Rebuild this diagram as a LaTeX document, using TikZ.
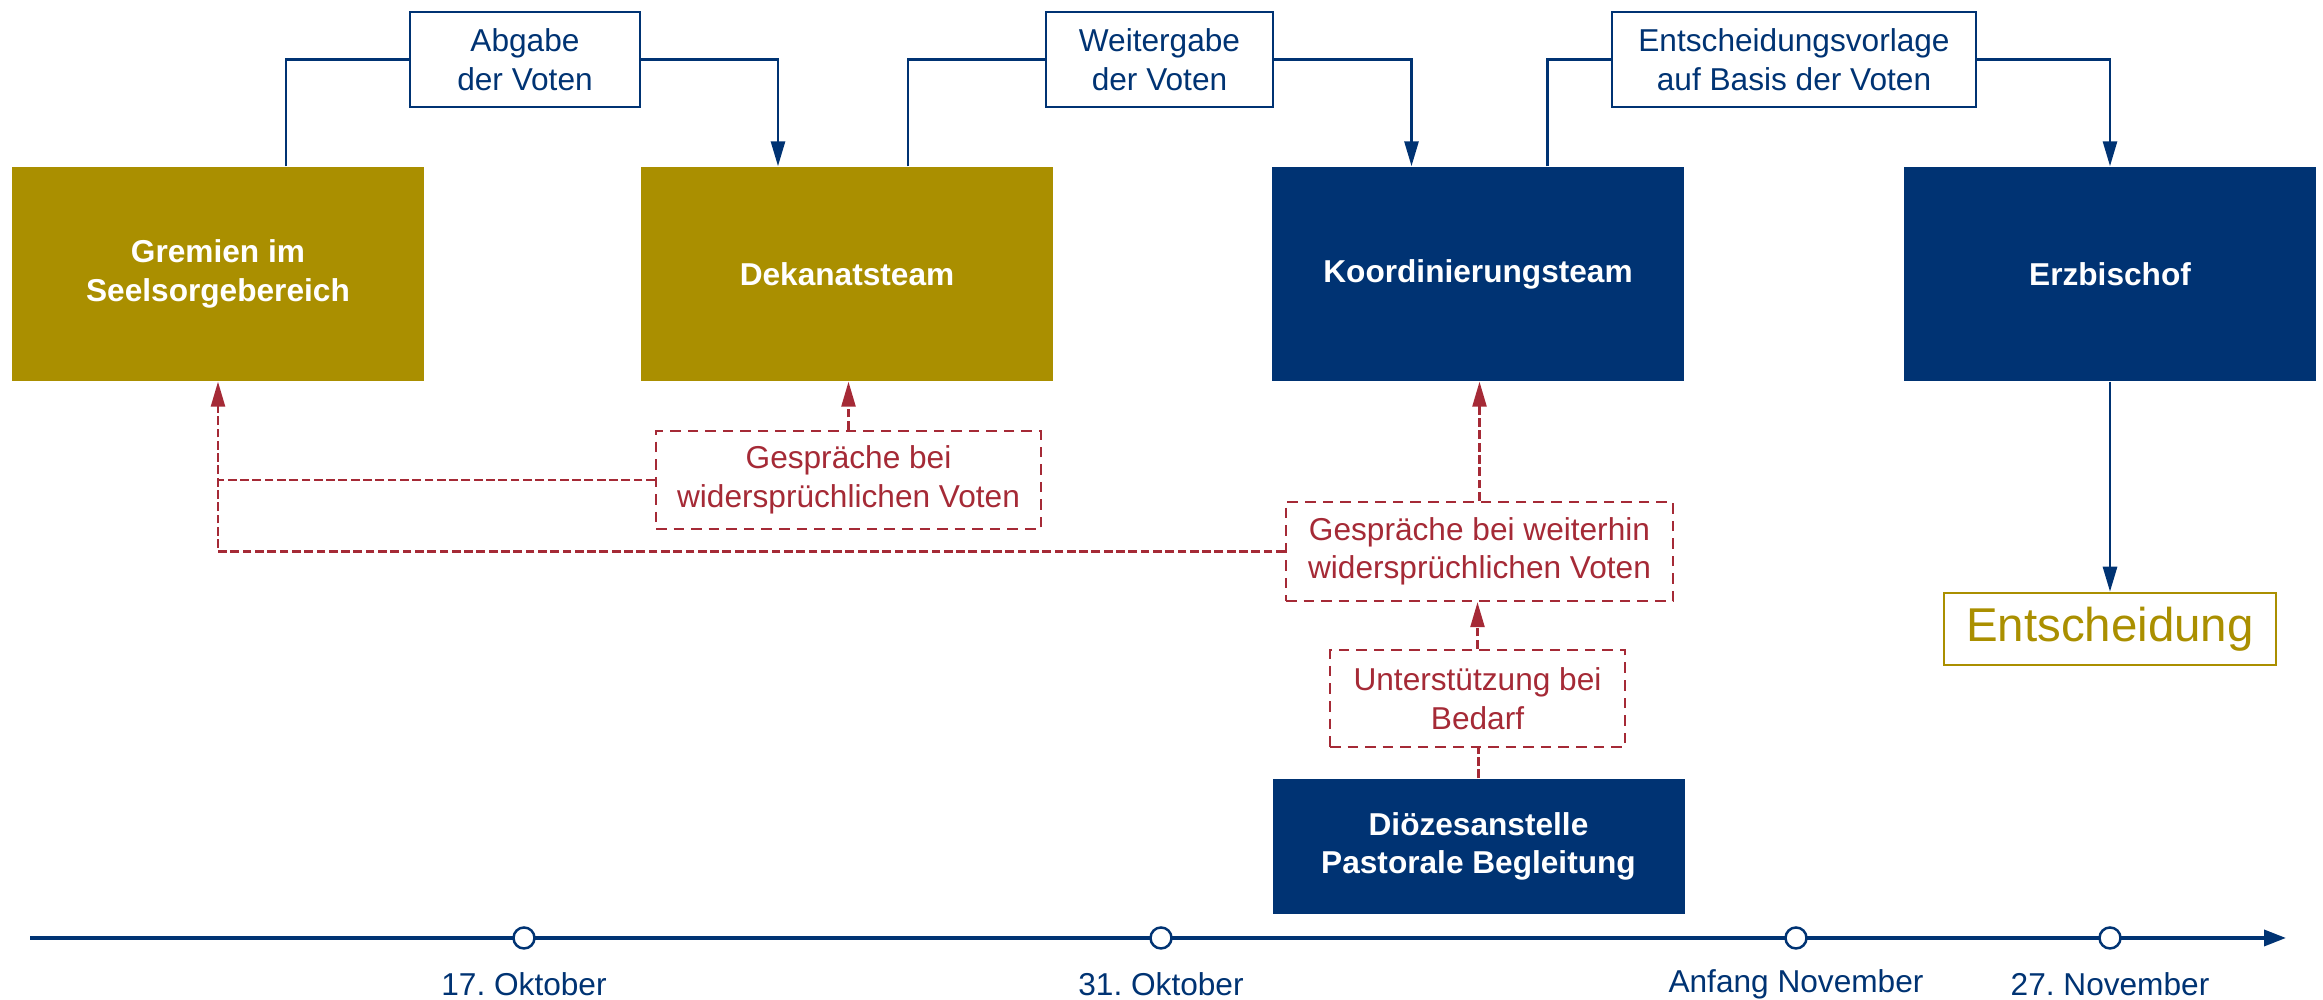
\documentclass[tikz,border=0pt]{standalone}
\usepackage{fontspec}
\setmainfont{Liberation Sans}
\usetikzlibrary{arrows.meta,positioning,calc}
\definecolor{navy}{RGB}{0,51,115}
\definecolor{gold}{RGB}{170,143,0}
\definecolor{talkred}{RGB}{165,42,54}
\frenchspacing

\begin{document}
\begin{tikzpicture}[font=\fontsize{9}{11}\selectfont,>={Triangle[length=2.5mm,width=1.4mm]},
  org/.style={text=white,font=\fontsize{9}{11}\selectfont\bfseries,align=center,minimum width=41.2mm,minimum height=21.4mm,inner sep=0pt},
  lbl/.style={draw=navy,line width=0.8pt,text=navy,align=center,minimum height=9.5mm,inner sep=0pt},
  talk/.style={draw=talkred,densely dashed,line width=0.7pt,text=talkred,align=center,inner sep=0pt},
  conn/.style={navy,line width=0.8pt},
  talkline/.style={talkred,line width=0.7pt,dash pattern=on 2.5pt off 1pt},
  datedot/.style={circle,draw=navy,fill=white,line width=0.7pt,minimum size=2.1mm,inner sep=0pt}]
  \useasboundingbox (0,0) rectangle (23.23,10);
  \node[org,fill=gold] (grem) at (2.18,7.26) {Gremien im\\Seelsorgebereich};
  \node[org,fill=gold] (dek) at (8.47,7.26) {Dekanatsteam};
  \node[org,fill=navy] (koord) at (14.78,7.26) {Koordinierungsteam};
  \node[org,fill=navy] (erz) at (21.10,7.26) {Erzbischof};
  \node[lbl,minimum width=23mm] (abg) at (5.25,9.405) {Abgabe\\der Voten};
  \node[lbl,minimum width=22.7mm] (weit) at (11.595,9.405) {Weitergabe\\der Voten};
  \node[lbl,minimum width=36.4mm] (vorl) at (17.94,9.405) {Entscheidungsvorlage\\auf Basis der Voten};
  \node[talk,minimum width=38.5mm,minimum height=9.8mm] (gesp) at (8.485,5.20) {Gespräche bei\\widersprüchlichen Voten};
  \node[talk,minimum width=38.7mm,minimum height=9.9mm] (gespw) at (14.795,4.485) {Gespräche bei weiterhin\\widersprüchlichen Voten};
  \node[talk,minimum width=29.5mm,minimum height=9.7mm] (unt) at (14.775,3.015) {Unterstützung bei\\Bedarf};
  \node[org,fill=navy,minimum height=13.5mm] (dioz) at (14.785,1.535) {Diözesanstelle\\Pastorale Begleitung};
  \node[draw=gold,line width=0.7pt,text=gold,font=\fontsize{13.5}{16}\selectfont,minimum width=33.2mm,minimum height=7.2mm,inner sep=0pt] (ent) at (21.10,3.71) {Entscheidung};
  % Voten nach oben weiterreichen
  \draw[conn] ($(grem.north)+(0.68,0)$) |- (abg.west);
  \draw[conn,->] (abg.east) -| ($(dek.north)+(-0.69,0)$);
  \draw[conn] ($(dek.north)+(0.61,0)$) |- (weit.west);
  \draw[conn,->] (weit.east) -| ($(koord.north)+(-0.665,0)$);
  \draw[conn] ($(koord.north)+(0.695,0)$) |- (vorl.west);
  \draw[conn,->] (vorl.east) -| (erz.north);
  \draw[conn,->] (erz.south) -- (ent.north);
  % Gespraeche
  \draw[talkline,->] (gesp.north) -- (gesp.north |- dek.south);
  \draw[talkline] (gesp.west) -- (gesp.west -| grem.south);
  \draw[talkline,->] (gespw.west) -| (grem.south);
  \draw[talkline,->] (gespw.north) -- (gespw.north |- koord.south);
  \draw[talkline,->] (unt.north) -- (unt.north |- gespw.south);
  \draw[talkline] (dioz.north) -- (dioz.north |- unt.south);
  % Zeitstrahl
  \coordinate (tl0) at (0.30,0.62);
  \coordinate (tl1) at (22.86,0.62);
  \draw[navy,line width=1pt,-{Triangle[length=2.2mm,width=1.6mm]}] (tl0) -- (tl1);
  \foreach \x/\d [count=\i] in {5.24/17. Oktober,11.61/31. Oktober,17.96/Anfang November,21.10/27. November} {
    \node[datedot] (m\i) at (\x,0.62) {};
    \node[text=navy] (d\i) at (\x,0.16) {\d};
  }
\end{tikzpicture}
\end{document}
